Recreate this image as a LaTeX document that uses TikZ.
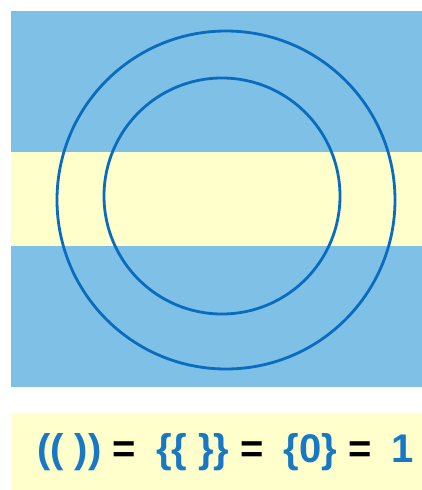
\documentclass[tikz,border=0pt]{standalone}
\usepackage{fontspec}
\setmainfont{Liberation Sans}
\usepackage{xcolor}
\usetikzlibrary{positioning}

\definecolor{skyband}{RGB}{127,192,230}
\definecolor{creamband}{RGB}{255,255,204}
\definecolor{ringblue}{RGB}{10,108,190}
\definecolor{textblue}{RGB}{24,120,196}

\tikzset{
	ring/.style={draw=ringblue, line width=2.8pt},
	eqtext/.style={inner sep=0pt, font=\fontsize{40}{44}\selectfont\bfseries}
}

\begin{document}
\begin{tikzpicture}[x=1pt,y=-1pt]
		
		\useasboundingbox (0,0) rectangle (422,490);
		
		\fill[skyband] (11,11) rectangle (422,387);
		\fill[creamband] (11,152) rectangle (422,246);
		
		\draw[ring] (226,200) circle (169);
		\draw[ring] (222,196) circle (118);
		
		\fill[creamband] (12,413) rectangle (422,490);
		
		\node[eqtext, anchor=west] (eq) at (37,452)
		{\textcolor{textblue}{(( ))} =\hspace{0.5em}\textcolor{textblue}{\{\{ \}\}} =\hspace{0.5em}\textcolor{textblue}{\{0\}} =\hspace{0.5em}\textcolor{textblue}{1}};
		
	\end{tikzpicture}
\end{document}
